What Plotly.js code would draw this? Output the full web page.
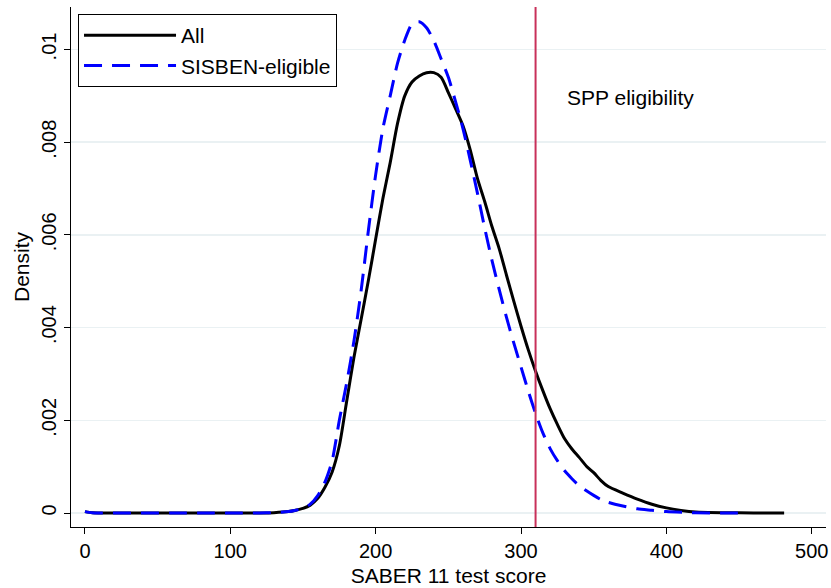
<!DOCTYPE html>
<html>
<head>
<meta charset="utf-8">
<script src="https://cdn.plot.ly/plotly-3.0.1.min.js"></script>
<style>html,body{margin:0;padding:0;background:#fff;}#chart{width:831px;height:588px;}</style>
</head>
<body>
<div id="chart"></div>
<script>
// Test score grid (SABER 11)
const scoreAll = [0,5,10,20,40,60,80,100,120,130,140,145,150,155,160,165,170,175,180,185,190,195,200,205,210,215,220,225,230,235,240,245,250,255,260,265,270,275,280,285,290,295,300,305,310,315,320,325,330,335,340,345,350,355,360,370,380,390,400,410,420,440,460,481];
const densityAll = [0.00003,0.000005,0.000001,0,0,0,0,0,0.000002,0.000008,0.00003,0.00006,0.0001,0.00017,0.00031,0.00055,0.00088,0.00145,0.0024,0.00335,0.00418,0.00502,0.00591,0.00679,0.00756,0.0084,0.009,0.0093,0.00943,0.0095,0.0095,0.0094,0.00907,0.00872,0.00836,0.00784,0.00722,0.00672,0.00618,0.0057,0.00513,0.00457,0.00403,0.00352,0.00306,0.00264,0.00225,0.00191,0.0016,0.00138,0.0012,0.00101,0.00087,0.0007,0.00057,0.00043,0.0003,0.00019,0.00011,0.000056,0.00002,0.000005,0.000002,0];

const scoreSisben = [0,5,10,20,40,60,80,100,120,130,140,145,150,155,160,165,170,175,180,185,190,195,200,205,210,215,220,225,230,235,240,245,250,255,260,265,270,275,280,285,290,295,300,305,310,315,320,325,330,335,340,345,350,355,360,370,380,390,400,420,440,452];
const densitySisben = [0.00003,0.000005,0,0,0,0,0,0,0.000002,0.000008,0.00003,0.00006,0.0001,0.00019,0.00037,0.00066,0.00112,0.002,0.0028,0.0037,0.0048,0.0061,0.0073,0.0083,0.009,0.0097,0.0102,0.01055,0.0106,0.01047,0.01019,0.0098,0.0094,0.00887,0.0083,0.00762,0.0069,0.00615,0.00545,0.00482,0.00422,0.00367,0.00315,0.00263,0.00215,0.00173,0.00139,0.00113,0.00091,0.00074,0.00059,0.00048,0.00038,0.00029,0.00023,0.00015,0.00009,0.00006,0.00003,0.000005,0.000001,0];

const seriesNames = ["All", "SISBEN-eligible"];
const cutoffScore = 310;
const cutoffLabel = "SPP eligibility";
const xTicks = [0,100,200,300,400,500];
const yTicks = [0,0.002,0.004,0.006,0.008,0.01];
const yTickText = ["0",".002",".004",".006",".008",".01"];

const FONT = "Liberation Sans, Arial, Helvetica, sans-serif";

const traces = [
  {x: scoreAll, y: densityAll, name: seriesNames[0], type: "scatter", mode: "lines",
   line: {color: "#000000", width: 3, shape: "spline", smoothing: 0.7}},
  {x: scoreSisben, y: densitySisben, name: seriesNames[1], type: "scatter", mode: "lines",
   line: {color: "#0000ff", width: 3, dash: "18px,10px", shape: "spline", smoothing: 0.7}}
];

const layout = {
  width: 831, height: 588,
  margin: {l: 71, r: 5, t: 7, b: 61},
  paper_bgcolor: "#ffffff", plot_bgcolor: "#ffffff",
  font: {family: FONT, size: 20, color: "#000"},
  showlegend: true,
  legend: {x: 0.0093, y: 0.9865, xanchor: "left", yanchor: "top",
           bordercolor: "#000", borderwidth: 1, bgcolor: "#fff",
           font: {family: FONT, size: 21, color: "#000"}, itemwidth: 92},
  xaxis: {range: [-9.6, 509.8], tickvals: xTicks, ticks: "outside", ticklen: 6, tickcolor: "#000",
          showline: true, linecolor: "#000", linewidth: 1, showgrid: false, zeroline: false,
          tickfont: {size: 20}, title: {text: "SABER 11 test score", font: {size: 21}, standoff: 7}},
  yaxis: {range: [-0.000302, 0.010917], tickvals: yTicks, ticktext: yTickText, tickangle: -90,
          ticks: "outside", ticklen: 6, tickcolor: "#000",
          showline: true, linecolor: "#000", linewidth: 1, showgrid: true, gridcolor: "#eaf1f3", gridwidth: 1.5,
          zeroline: false, tickfont: {size: 20}, title: {text: "Density", font: {size: 21}, standoff: 2}},
  shapes: [{type: "line", xref: "x", yref: "paper", x0: cutoffScore, x1: cutoffScore, y0: 0, y1: 1,
            line: {color: "#c8305a", width: 2}}],
  annotations: [{x: cutoffScore + 20.3, y: 0.00896, xref: "x", yref: "y", text: cutoffLabel,
                 showarrow: false, xanchor: "left", yanchor: "middle", font: {family: FONT, size: 21, color: "#000"}}]
};

Plotly.newPlot("chart", traces, layout, {staticPlot: true, displayModeBar: false});
</script>
</body>
</html>
